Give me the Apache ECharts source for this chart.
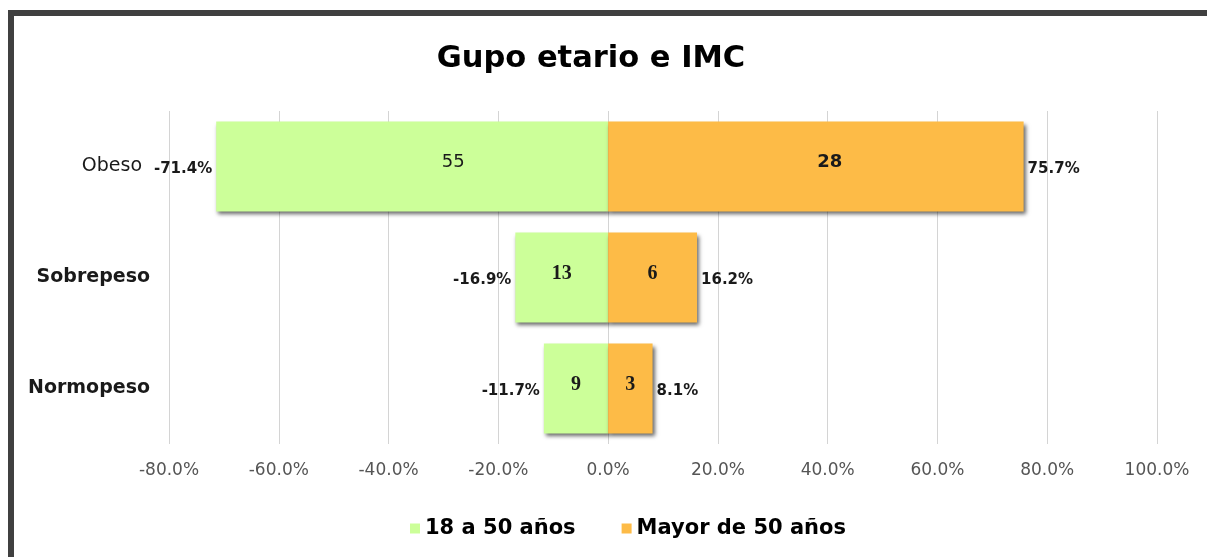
<!DOCTYPE html>
<html>
<head>
<meta charset="utf-8">
<script src="https://cdn.jsdelivr.net/npm/echarts@6/dist/echarts.min.js"></script>
<style>
  html, body { margin: 0; padding: 0; background: #ffffff; }
  #chart { width: 1207px; height: 557px; }
</style>
</head>
<body>
<div id="chart"></div>
<script>
const categories = ['Obeso', 'Sobrepeso', 'Normopeso'];
const seriesNames = ['18 a 50 años', 'Mayor de 50 años'];
const pctYoung = [-71.4, -16.9, -11.7];
const pctOld = [75.7, 16.2, 8.1];
const countYoung = [55, 13, 9];
const countOld = [28, 6, 3];
const xMin = -80, xMax = 100, xStep = 20;

const chart = echarts.init(document.getElementById('chart'));
const green = '#CCFF99';
const orange = '#FDBB47';
const shadow = { shadowColor: 'rgba(0,0,0,0.6)', shadowBlur: 4, shadowOffsetX: 2, shadowOffsetY: 3 };
const countRich = {
  s: { fontFamily: 'DejaVu Sans', fontWeight: 'normal', fontSize: 18, color: '#1a1a1a' },
  b: { fontFamily: 'DejaVu Sans', fontWeight: 'bold', fontSize: 18, color: '#1a1a1a' },
  r: { fontFamily: 'Liberation Serif', fontWeight: 'bold', fontSize: 20, color: '#1a1a1a' }
};
// label styling per row (first row uses a sans face, shifted as in the original)
const countLabelStyle = (firstShift) => (v, i) => ({
  value: v,
  label: { offset: [i === 0 ? firstShift : 0, -4] }
});
const countFmt = (arr, firstStyle) => (p) => '{' + (p.dataIndex === 0 ? firstStyle : 'r') + '|' + arr[p.dataIndex] + '}';
const pctFont = { fontFamily: 'DejaVu Sans', fontWeight: 'bold', fontSize: 15, color: '#1a1a1a' };
const catRich = {
  n: { fontFamily: 'DejaVu Sans', fontWeight: 'normal', fontSize: 19, color: '#1a1a1a', padding: [0, 8, 0, 0] },
  b: { fontFamily: 'DejaVu Sans', fontWeight: 'bold', fontSize: 19, color: '#1a1a1a' }
};

chart.setOption({
  backgroundColor: '#ffffff',
  animation: false,
  title: {
    text: 'Gupo etario e IMC',
    left: 586, textAlign: 'center', top: 39,
    textStyle: { fontFamily: 'DejaVu Sans', fontWeight: 'bold', fontSize: 30.5, color: '#000' }
  },
  graphic: [{
    type: 'rect', silent: true, z: 100,
    shape: { x: 11, y: 13, width: 1400, height: 800 },
    style: { fill: 'none', stroke: '#404040', lineWidth: 6 }
  }],
  legend: {
    data: seriesNames,
    left: 405, top: 513,
    icon: 'rect', itemWidth: 10, itemHeight: 10, itemGap: 46,
    textStyle: { fontFamily: 'DejaVu Sans', fontWeight: 'bold', fontSize: 21, color: '#000' }
  },
  grid: { left: 169, right: 50, top: 111, bottom: 113 },
  xAxis: {
    type: 'value', min: xMin, max: xMax, interval: xStep,
    axisLine: { show: false }, axisTick: { show: false },
    splitLine: { lineStyle: { color: '#d4d4d4', width: 1 } },
    axisLabel: {
      formatter: (v) => v.toFixed(1) + '%', margin: 18,
      fontFamily: 'DejaVu Sans', fontSize: 17, color: '#555'
    }
  },
  yAxis: {
    type: 'category', data: categories, inverse: true,
    axisLine: { show: false }, axisTick: { show: false },
    axisLabel: {
      margin: 19,
      formatter: (v, i) => (i === 0 ? '{n|' : '{b|') + v + '}',
      rich: catRich
    }
  },
  series: [
    {
      name: seriesNames[0], type: 'bar', barWidth: '81%', barGap: '-100%',
      data: pctYoung.map(countLabelStyle(41)),
      itemStyle: Object.assign({ color: green }, shadow),
      label: { show: true, position: 'inside', formatter: countFmt(countYoung, 's'), rich: countRich }
    },
    {
      name: seriesNames[1], type: 'bar', barWidth: '81%', barGap: '-100%',
      data: pctOld.map(countLabelStyle(14)),
      itemStyle: Object.assign({ color: orange }, shadow),
      label: { show: true, position: 'inside', formatter: countFmt(countOld, 'b'), rich: countRich }
    },
    {
      name: 'pctYoung', type: 'bar', data: pctYoung, barWidth: '81%', barGap: '-100%', silent: true,
      itemStyle: { color: 'rgba(0,0,0,0)' },
      label: Object.assign({ show: true, position: 'left', distance: 4, offset: [0, 3], formatter: (p) => p.value.toFixed(1) + '%' }, pctFont)
    },
    {
      name: 'pctOld', type: 'bar', data: pctOld, barWidth: '81%', barGap: '-100%', silent: true,
      itemStyle: { color: 'rgba(0,0,0,0)' },
      label: Object.assign({ show: true, position: 'right', distance: 4, offset: [0, 3], formatter: (p) => p.value.toFixed(1) + '%' }, pctFont)
    }
  ]
});
</script>
</body>
</html>
